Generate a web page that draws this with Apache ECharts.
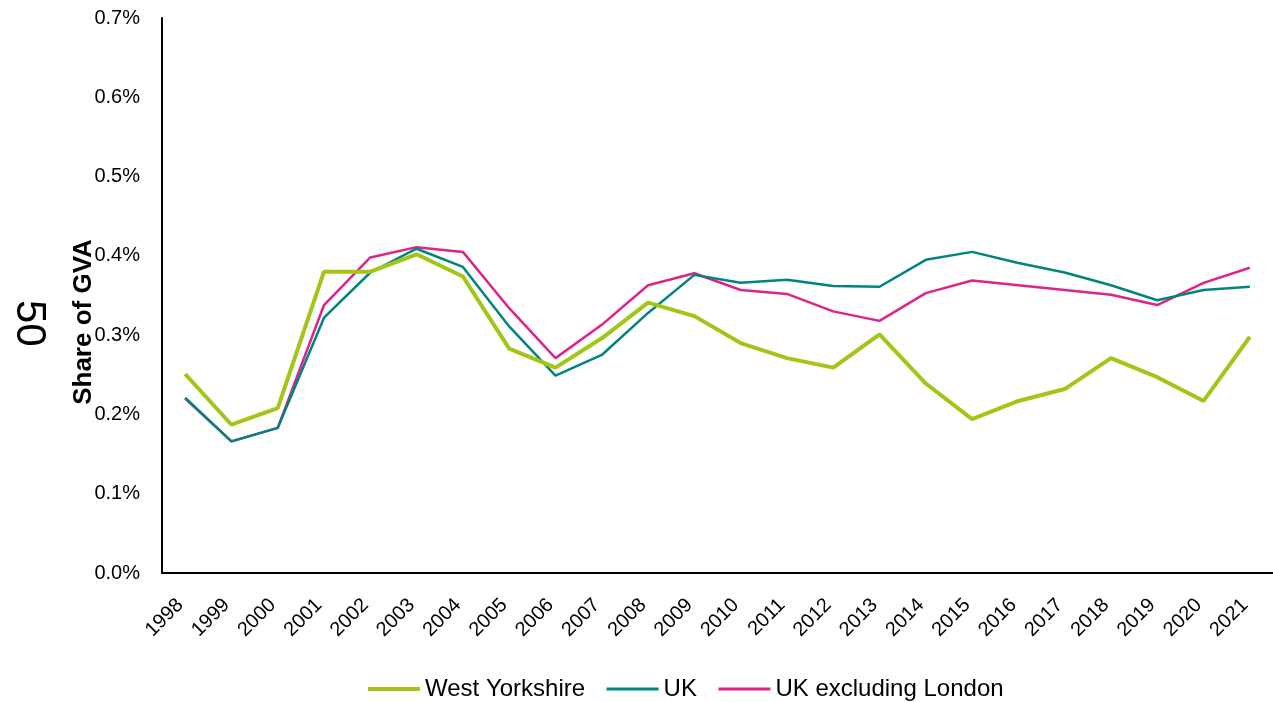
<!DOCTYPE html>
<html>
<head>
<meta charset="utf-8">
<script src="https://cdn.jsdelivr.net/npm/echarts@6/dist/echarts.min.js"></script>
<style>
  html, body { margin: 0; padding: 0; background: #fff; }
  #chart { width: 1273px; height: 702px; }
</style>
</head>
<body>
<div id="chart"></div>
<script>
const years = ['1998', '1999', '2000', '2001', '2002', '2003', '2004', '2005', '2006', '2007', '2008', '2009',
    '2010', '2011', '2012', '2013', '2014', '2015', '2016', '2017', '2018', '2019', '2020', '2021'];

// share of GVA, in percent
const westYorkshire = [0.251, 0.187, 0.208, 0.380, 0.380, 0.402, 0.374, 0.283, 0.259, 0.296, 0.341, 0.324,
    0.290, 0.271, 0.259, 0.301, 0.239, 0.194, 0.217, 0.232, 0.271, 0.247, 0.217, 0.298];
const uk = [0.221, 0.166, 0.183, 0.322, 0.379, 0.409, 0.386, 0.311, 0.249, 0.275, 0.328, 0.376,
    0.366, 0.370, 0.362, 0.361, 0.395, 0.405, 0.391, 0.379, 0.363, 0.344, 0.357, 0.361];
const ukExLondon = [0.220, 0.166, 0.183, 0.338, 0.398, 0.411, 0.405, 0.334, 0.271, 0.313, 0.363, 0.378,
    0.357, 0.352, 0.330, 0.318, 0.353, 0.369, 0.363, 0.357, 0.351, 0.338, 0.366, 0.385];

const font = 'Liberation Sans, Arial, sans-serif';
const green = '#a2c617', teal = '#00857e', pink = '#de2389';

let myChart = echarts.init(document.getElementById('chart'));

let option = {
    backgroundColor: '#fff',
    animation: false,
    textStyle: { fontFamily: font },
    grid: { left: 162, right: -16, top: 18, bottom: 129, containLabel: false },
    legend: {
        top: 672,
        left: 361,
        itemWidth: 52,
        itemHeight: 14,
        itemGap: 20,
        itemStyle: { opacity: 0 },
        textStyle: { fontFamily: font, fontSize: 24, color: '#000' },
        data: [
            { name: 'West Yorkshire', lineStyle: { width: 4, color: green } },
            { name: 'UK', lineStyle: { width: 3, color: teal } },
            { name: 'UK excluding London', lineStyle: { width: 3, color: pink } }
        ]
    },
    xAxis: {
        type: 'category',
        data: years,
        boundaryGap: true,
        axisLine: { lineStyle: { color: '#000', width: 2 } },
        axisTick: { show: false },
        axisLabel: {
            rotate: 45, fontSize: 20, color: '#000', margin: 24, interval: 0, fontFamily: font,
            padding: [0, 7, 0, 0]
        }
    },
    yAxis: {
        type: 'value',
        min: 0,
        max: 0.7,
        interval: 0.1,
        axisLine: { show: true, lineStyle: { color: '#000', width: 2 } },
        axisTick: { show: false },
        splitLine: { show: false },
        axisLabel: {
            fontSize: 20, color: '#000', margin: 22, fontFamily: font,
            formatter: v => v.toFixed(1) + '%'
        }
    },
    graphic: [
        {
            type: 'text', left: 8, top: 300,
            rotation: -Math.PI / 2,
            style: { text: '50', font: '42px ' + font, fill: '#000' }
        },
        {
            type: 'text', x: 84, y: 322,
            rotation: Math.PI / 2,
            style: {
                text: 'Share of GVA', font: 'bold 26px ' + font, fill: '#000',
                align: 'center', verticalAlign: 'middle'
            }
        }
    ],
    series: [
        {
            name: 'West Yorkshire', type: 'line', data: westYorkshire,
            symbol: 'none', color: green,
            lineStyle: { width: 4, color: green }, z: 3
        },
        {
            name: 'UK', type: 'line', data: uk,
            symbol: 'none', color: teal,
            lineStyle: { width: 2.5, color: teal }, z: 2
        },
        {
            name: 'UK excluding London', type: 'line', data: ukExLondon,
            symbol: 'none', color: pink,
            lineStyle: { width: 2.5, color: pink }, z: 1
        }
    ]
};

myChart.setOption(option);
</script>
</body>
</html>
